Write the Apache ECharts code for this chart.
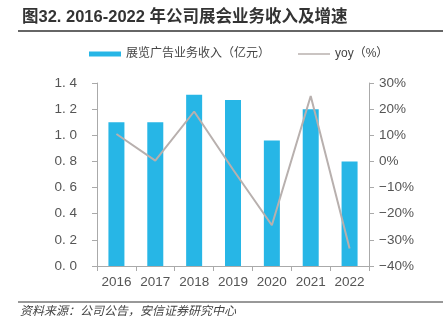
<!DOCTYPE html>
<html><head><meta charset="utf-8">
<script src="https://cdn.jsdelivr.net/npm/echarts@6/dist/echarts.min.js"></script>
<style>html,body{margin:0;padding:0;background:#fff}#c{width:448px;height:322px}</style>
</head><body><div id="c"></div>
<script>
var categories = ['2016','2017','2018','2019','2020','2021','2022'];
var revenue = [1.1, 1.1, 1.31, 1.27, 0.96, 1.2, 0.8];
var yoy = [10.5, 0.3, 19.1, -3.1, -24.4, 25.0, -33.3];
var leftTicks = {min: 0, max: 1.4, interval: 0.2};
var rightTicks = {min: -40, max: 30, interval: 10};

var FONT = '"Liberation Sans", Arial, "Noto Sans CJK SC", sans-serif';
var chart = echarts.init(document.getElementById('c'));
chart.setOption({
  animation: false,
  backgroundColor: '#fff',
  title: {
    text: '图32. 2016-2022 年公司展会业务收入及增速',
    left: 17, top: 4,
    textStyle: {fontFamily: FONT, fontSize: 16.5, fontWeight: 'bold', color: '#333'}
  },
  graphic: [
    {type: 'line', shape: {x1: 18, y1: 31, x2: 443, y2: 31}, style: {stroke: '#333', lineWidth: 1.5}},
    {type: 'line', shape: {x1: 18, y1: 302, x2: 443, y2: 302}, style: {stroke: '#333', lineWidth: 1}},
    {type: 'text', left: 20, top: 304, style: {text: '资料来源：公司公告，安信证券研究中心', font: 'italic 12px "Noto Sans CJK SC", sans-serif', fill: '#444'}}
  ],
  legend: {
    top: 43, left: 84, itemWidth: 32, itemHeight: 5, itemGap: 28,
    textStyle: {fontFamily: FONT, fontSize: 12, color: '#444'},
    data: [
      {name: '展览广告业务收入（亿元）', icon: 'rect'},
      {name: 'yoy（%）', icon: 'path://M0,0H32V1.3H0Z'}
    ]
  },
  grid: {left: 97, right: 79, top: 83, bottom: 56},
  xAxis: {
    type: 'category', data: categories,
    axisLine: {lineStyle: {color: '#aaa'}},
    axisTick: {show: true, length: 5, lineStyle: {color: '#aaa'}},
    axisLabel: {fontFamily: FONT, fontSize: 13.5, color: '#555', margin: 10, interval: 0}
  },
  yAxis: [
    {
      type: 'value', min: leftTicks.min, max: leftTicks.max, interval: leftTicks.interval,
      axisLine: {show: true, lineStyle: {color: '#aaa'}},
      axisTick: {show: true, length: 5, lineStyle: {color: '#aaa'}},
      splitLine: {show: false},
      axisLabel: {fontFamily: FONT, fontSize: 13.5, color: '#555', margin: 20,
        formatter: function (v) { return v.toFixed(1).replace('.', '. '); }}
    },
    {
      type: 'value', min: rightTicks.min, max: rightTicks.max, interval: rightTicks.interval,
      position: 'right',
      axisLine: {show: true, lineStyle: {color: '#aaa'}},
      axisTick: {show: true, length: 5, lineStyle: {color: '#aaa'}},
      splitLine: {show: false},
      axisLabel: {fontFamily: FONT, fontSize: 13.5, color: '#555', margin: 10,
        formatter: function (v) { return String(v).replace('-', '−') + '%'; }}
    }
  ],
  series: [
    {
      name: '展览广告业务收入（亿元）', type: 'bar', data: revenue, yAxisIndex: 0,
      barWidth: 16, itemStyle: {color: '#27b6e6'}
    },
    {
      name: 'yoy（%）', type: 'line', data: yoy, yAxisIndex: 1,
      symbol: 'none', showSymbol: false,
      lineStyle: {color: '#b8b0ae', width: 2},
      itemStyle: {color: '#b8b0ae'}
    }
  ]
});
</script>
</body></html>
